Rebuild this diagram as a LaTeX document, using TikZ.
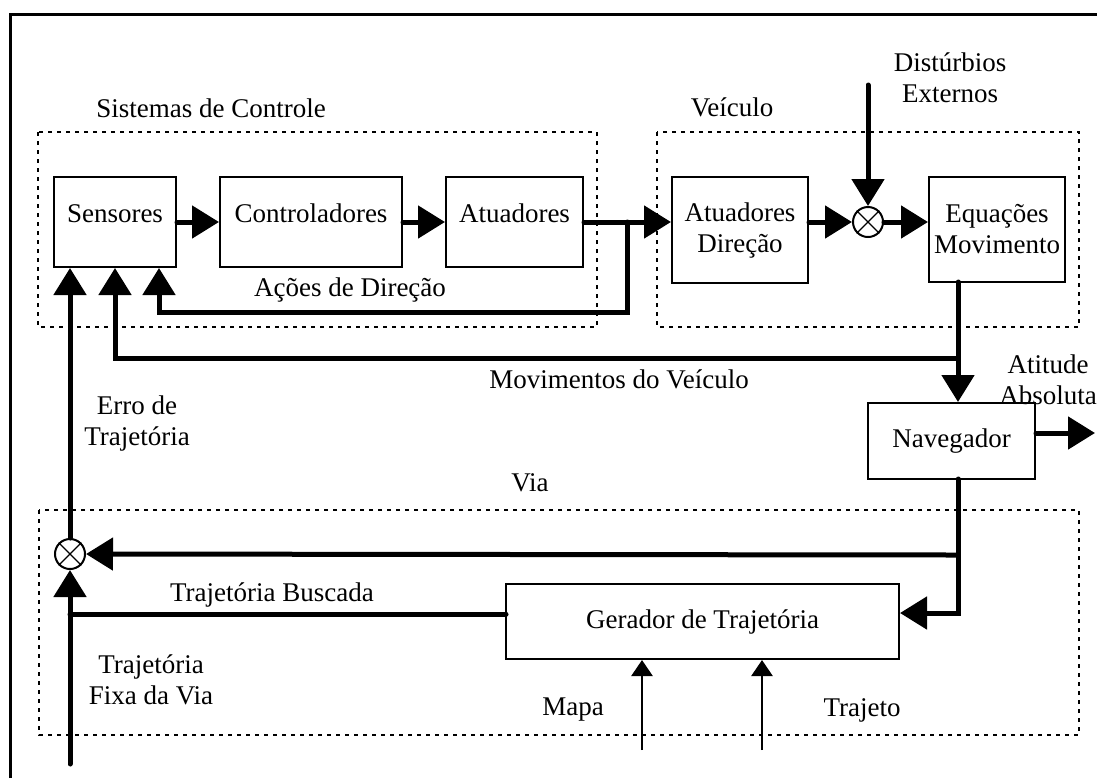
\documentclass[tikz,border=0pt]{standalone}
\usepackage{fontspec}
\setmainfont{Liberation Serif}
\usetikzlibrary{arrows.meta}

\begin{document}
\begin{tikzpicture}[x=0.5pt, y=-0.5pt, font=\fontsize{13.5}{15.5}\selectfont,
        box/.style={draw, line width=1pt, inner sep=0pt, align=center},
        lowtext/.style={text height=1.5ex, text depth=1.5ex},
        junction/.style={draw, circle, line width=1pt, minimum size=15pt, inner sep=0pt},
        region/.style={line width=1pt, dash pattern=on 2pt off 2.5pt},
        wire/.style={line width=2.5pt, line cap=round},
        flow/.style={wire, -{Triangle[length=13.5pt, width=16pt]}},
        feed/.style={line width=1.3pt, -{Triangle[length=8pt, width=10.5pt]}},
        label/.style={inner sep=0pt, align=center}]
                \useasboundingbox (0,0) rectangle (1097,778);
                \draw[line width=1.5pt] (10,778) -- (10,14) -- (1097,14);
                \draw[region] (38,132) rectangle (597,327);
                \draw[region] (657,132) rectangle (1079,327);
                \draw[region] (39,510) rectangle (1079,735);
                \node[box, lowtext, minimum width=61pt, minimum height=45pt] (0) at (115, 222) {Sensores};
                \node[box, lowtext, minimum width=91pt, minimum height=45pt] (1) at (311, 222) {Controladores};
                \node[box, lowtext, minimum width=68.5pt, minimum height=45pt] (2) at (514.5, 222) {Atuadores};
                \node[box, minimum width=68pt, minimum height=53pt] (3) at (740, 230) {Atuadores\\Direção};
                \node[junction] (4) at (868, 222) {};
                \node[box, minimum width=68pt, minimum height=52.5pt] (5) at (997, 229.5) {Equações\\Movimento};
                \node[box, minimum width=83.5pt, minimum height=38pt] (6) at (951.5, 441) {Navegador};
                \node[junction] (7) at (70, 554) {};
                \node[box, minimum width=196.5pt, minimum height=37.5pt] (8) at (702.5, 621.5) {Gerador de Trajetória};
                \node[label] (9) at (211, 108) {Sistemas de Controle};
                \node[label] (10) at (732, 107) {Veículo};
                \node[label] (11) at (950, 78) {Distúrbios\\Externos};
                \node[label] (12) at (350, 290) {Ações de Direção};
                \node[label] (13) at (619, 379) {Movimentos do Veículo};
                \node[label] (14) at (1048, 380) {Atitude\\Absoluta};
                \node[label] (15) at (137, 423) {Erro de\\Trajetória};
                \node[label] (16) at (530, 483) {Via};
                \node[label] (17) at (272, 595) {Trajetória Buscada};
                \node[label] (18) at (151, 680) {Trajetória\\Fixa da Via};
                \node[label] (19) at (573, 710) {Mapa};
                \node[label] (20) at (862, 710) {Trajeto};
                \coordinate (a) at (627, 222);
                \coordinate (b) at (159, 312);
                \coordinate (c) at (868, 85);
                \coordinate (d) at (958, 282);
                \coordinate (e) at (958, 358);
                \coordinate (g) at (1095, 433);
                \coordinate (h) at (958, 479);
                \coordinate (i) at (958, 555);
                \coordinate (j) at (958, 613);
                \coordinate (k) at (70, 764);
                \coordinate (l) at (506, 614);
                \coordinate (m) at (642, 750);
                \coordinate (n) at (762, 750);
                \draw[line width=0.6pt] (4.north west) to (4.south east) (4.north east) to (4.south west);
                \draw[line width=0.6pt] (7.north west) to (7.south east) (7.north east) to (7.south west);
                \draw[flow] (0.east) to (1.west);
                \draw[flow] (1.east) to (2.west);
                \draw[flow] (2.east) to (2.east -| 3.west);
                \draw[flow] (a) |- (b) to (b |- 0.south);
                \draw[flow] (4.west -| 3.east) to (4.west);
                \draw[flow] (c) to (4.north);
                \draw[flow] (4.east) to (4.east -| 5.west);
                \draw[flow] (d) to (d |- 6.north);
                \draw[flow] (e) -| (0.south);
                \draw[flow] (g -| 6.east) to (g);
                \draw[flow] (h) to (j) to (j -| 8.east);
                \draw[flow] (i) to (7.east);
                \draw[flow] (k) to (7.south);
                \draw[wire] (l) to (l -| 7.south);
                \draw[flow] (7.north) to (7.north |- 0.south);
                \draw[feed] (m) to (m |- 8.south);
                \draw[feed] (n) to (n |- 8.south);
    \end{tikzpicture}
\end{document}
